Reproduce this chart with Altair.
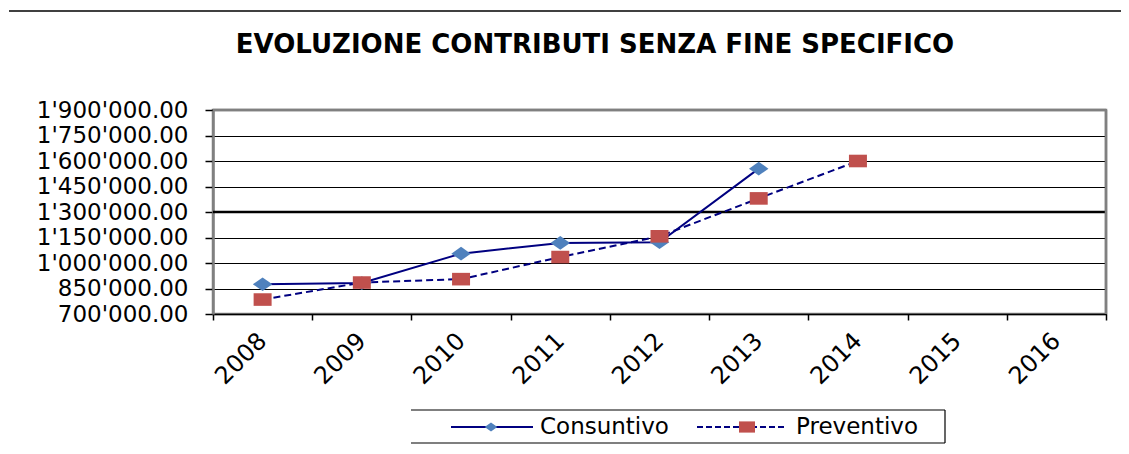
import altair as alt
import pandas as pd

# ---- data ----
years = ['2008', '2009', '2010', '2011', '2012', '2013', '2014', '2015', '2016']
cons_years = ['2008', '2009', '2010', '2011', '2012', '2013']
consuntivo = [875000, 882000, 1055000, 1118000, 1122000, 1555000]
prev_years = ['2008', '2009', '2010', '2011', '2012', '2013', '2014']
preventivo = [785000, 885000, 905000, 1035000, 1157000, 1380000, 1600000]
y_ticks = [700000, 850000, 1000000, 1150000, 1300000, 1450000, 1600000, 1750000, 1900000]
emph_line = [1300000]
series_names = ['Consuntivo', 'Preventivo']
title_text = 'EVOLUZIONE CONTRIBUTI SENZA FINE SPECIFICO'

df_c = pd.DataFrame({'anno': cons_years, 'valore': consuntivo})
df_p = pd.DataFrame({'anno': prev_years, 'valore': preventivo})
df_e = pd.DataFrame({'valore': emph_line})
one = pd.DataFrame({'k': [0]})

FONT = 'DejaVu Sans'
NAVY = '#000080'
BLUE = '#4F81BD'
RED = '#C0504D'
GRAY = '#808080'
DIAMOND = 'M-1,0L0,-0.7L1,0L0,0.7Z'
SQUARE = 'M-1,-0.7H1V0.7H-1Z'

x_enc = alt.X('anno:O',
              scale=alt.Scale(type='band', domain=years, paddingInner=0, paddingOuter=0),
              axis=alt.Axis(title=None, labelAngle=315, labelAlign='right', labelBaseline='middle',
                            labelFont=FONT, labelFontSize=24, labelColor='black', labelPadding=17,
                            tickBand='extent', tickSize=6, tickColor='black', tickWidth=1.5,
                            domainColor='black', domainWidth=1.5, grid=False))
y_enc = alt.Y('valore:Q',
              scale=alt.Scale(domain=[700000, 1900000], nice=False, zero=False),
              axis=alt.Axis(title=None, values=y_ticks,
                            labelExpr="replace(format(datum.value, ',.2f'), regexp(',', 'g'), \"'\")",
                            labelFont=FONT, labelFontSize=23, labelColor='black', labelPadding=17,
                            tickSize=8, tickColor='black', tickWidth=1.5,
                            domainColor=GRAY, domainWidth=2.5,
                            grid=True, gridColor='black', gridWidth=1.2, gridOpacity=1))

emph = alt.Chart(df_e).mark_rule(color='black', strokeWidth=2.5).encode(y=y_enc)

line_c = alt.Chart(df_c).mark_line(color=NAVY, strokeWidth=2).encode(x=x_enc, y=y_enc)
pts_c = alt.Chart(df_c).mark_point(shape=DIAMOND, filled=True, size=380, color=BLUE, opacity=1).encode(x=x_enc, y=y_enc)
line_p = alt.Chart(df_p).mark_line(color=NAVY, strokeWidth=2, strokeDash=[7, 4]).encode(x=x_enc, y=y_enc)
pts_p = alt.Chart(df_p).mark_point(shape=SQUARE, filled=True, size=324, color=RED, opacity=1).encode(x=x_enc, y=y_enc)

# ---- frame, title, legend (pixel positions relative to plot origin) ----
frame_top = alt.Chart(one).mark_rule(color=GRAY, strokeWidth=2.5).encode(
    x=alt.value(0), x2=alt.value(893), y=alt.value(0))
frame_right = alt.Chart(one).mark_rule(color=GRAY, strokeWidth=2.5).encode(
    x=alt.value(893), y=alt.value(0), y2=alt.value(204))
title = alt.Chart(one).mark_text(font=FONT, fontSize=26, fontWeight='bold', align='center',
                                 baseline='alphabetic', color='black').encode(
    x=alt.value(382), y=alt.value(-57), text=alt.value(title_text))
top_line = alt.Chart(one).mark_rule(color='black', strokeWidth=1.5).encode(
    x=alt.value(-204), x2=alt.value(916), y=alt.value(-99))
box_top = alt.Chart(one).mark_rule(color='black', strokeWidth=1.2).encode(
    x=alt.value(198), x2=alt.value(732), y=alt.value(300))
box_bottom = alt.Chart(one).mark_rule(color='black', strokeWidth=1.2).encode(
    x=alt.value(198), x2=alt.value(732), y=alt.value(333))
box_right = alt.Chart(one).mark_rule(color='black', strokeWidth=1.2).encode(
    x=alt.value(732), y=alt.value(300), y2=alt.value(333))
leg_line_c = alt.Chart(one).mark_rule(color=NAVY, strokeWidth=2).encode(
    x=alt.value(238), x2=alt.value(320), y=alt.value(317))
leg_pt_c = alt.Chart(one).mark_point(shape=DIAMOND, filled=True, size=160, color=BLUE, opacity=1).encode(
    x=alt.value(278), y=alt.value(317))
leg_txt_c = alt.Chart(one).mark_text(font=FONT, fontSize=23, align='left', baseline='middle', color='black').encode(
    x=alt.value(327), y=alt.value(317), text=alt.value(series_names[0]))
leg_line_p = alt.Chart(one).mark_rule(color=NAVY, strokeWidth=2, strokeDash=[6, 3]).encode(
    x=alt.value(484), x2=alt.value(574), y=alt.value(317))
leg_pt_p = alt.Chart(one).mark_point(shape=SQUARE, filled=True, size=256, color=RED, opacity=1).encode(
    x=alt.value(534), y=alt.value(317))
leg_txt_p = alt.Chart(one).mark_text(font=FONT, fontSize=23, align='left', baseline='middle', color='black').encode(
    x=alt.value(583), y=alt.value(317), text=alt.value(series_names[1]))

chart = alt.layer(
    emph, frame_top, frame_right, line_c, line_p, pts_c, pts_p,
    title, top_line, box_top, box_bottom, box_right,
    leg_line_c, leg_pt_c, leg_txt_c, leg_line_p, leg_pt_p, leg_txt_p
).properties(
    width=893, height=204,
    autosize=alt.AutoSizeParams(type='none'),
    padding={'left': 205, 'top': 102, 'right': 15, 'bottom': 132}
).configure_view(stroke=GRAY, strokeWidth=2.5)

chart.save('out.html', embed_options={'renderer': 'svg', 'actions': False})
